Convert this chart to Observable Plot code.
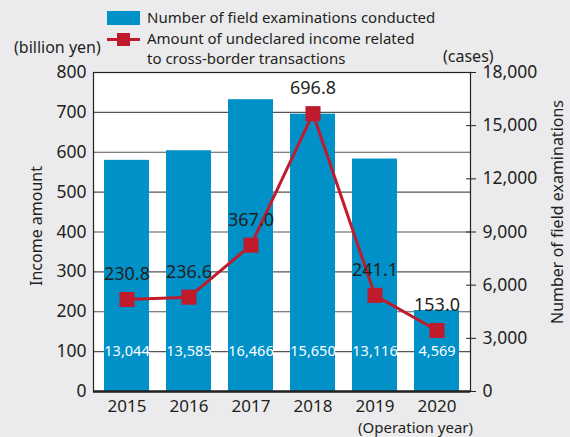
<!DOCTYPE html>
<html>
<head>
<meta charset="utf-8">
<script src="https://cdn.jsdelivr.net/npm/d3@7"></script>
<script src="https://cdn.jsdelivr.net/npm/@observablehq/plot@0.6"></script>
<style>
  html, body { margin: 0; padding: 0; background: #ebebed; }
  #wrap { position: relative; width: 570px; height: 437px; background: #ebebed; font-family: 'Noto Sans', sans-serif; color: #231f20; overflow: hidden; }
  #wrap svg { position: absolute; left: 0; top: 0; }
  .lbl { position: absolute; white-space: nowrap; font-size: 15px; line-height: normal; }
  .sw { position: absolute; }
</style>
</head>
<body>
<div id="wrap"></div>
<script>
const years = ["2015", "2016", "2017", "2018", "2019", "2020"];
const examinations = [13044, 13585, 16466, 15650, 13116, 4569];
const income = [230.8, 236.6, 367.0, 696.8, 241.1, 153.0];
const incomeTicks = [0, 100, 200, 300, 400, 500, 600, 700, 800];
const caseTicks = [0, 3000, 6000, 9000, 12000, 15000, 18000];

const BLUE = "#0091c9";
const RED = "#c01b2d";
const k = 800 / 18000; // cases -> billion yen

const data = years.map((y, i) => ({year: y, cases: examinations[i], income: income[i]}));

const tickShape = {draw(ctx, l) { ctx.moveTo(0, 0); ctx.lineTo(0, -l); }};

const chart = Plot.plot({
  width: 570,
  height: 437,
  marginTop: 72,
  marginBottom: 46,
  marginLeft: 93,
  marginRight: 100,
  style: {fontFamily: "'Noto Sans', sans-serif", background: "transparent", color: "#231f20", overflow: "visible"},
  x: {domain: years, paddingInner: 0.28, paddingOuter: 0.14, label: null},
  y: {domain: [0, 800], label: null},
  marks: [
    Plot.frame({fill: "white", stroke: null}),
    Plot.ruleY(incomeTicks.slice(1, -1), {stroke: "#555", strokeWidth: 1.2}),
    Plot.barY(data, {x: "year", y: d => d.cases * k, fill: BLUE}),
    Plot.text(data, {x: "year", y: () => 100, text: d => d3.format(",")(d.cases), fill: "white", fontSize: 14.5, letterSpacing: "-0.5px"}),
    Plot.frame({stroke: "#222", strokeWidth: 1.2}),
    Plot.ruleY([0], {stroke: "#222", strokeWidth: 2.5}),
    Plot.vector(caseTicks.map(c => c * k), {y: d => d, frameAnchor: "right", rotate: -90, length: 4, anchor: "start", shape: tickShape, stroke: "#222", strokeWidth: 1}),
    Plot.axisY({anchor: "left", ticks: incomeTicks, tickSize: 0, tickPadding: 7, fontSize: 17.5, label: null}),
    Plot.axisY({anchor: "right", ticks: caseTicks.map(c => c * k), tickSize: 5, tickPadding: 7, fontSize: 17.5, label: null,
      tickFormat: d => d3.format(",")(Math.round(d / k))}),
    Plot.axisX({tickSize: 0, tickPadding: 8, fontSize: 17, label: null}),
    Plot.line(data, {x: "year", y: "income", stroke: RED, strokeWidth: 3}),
    Plot.dot(data, {x: "year", y: "income", symbol: "square", r: 8.5, fill: RED, stroke: null}),
    Plot.text(data, {x: "year", y: "income", text: d => d.income.toFixed(1), dy: -25, fontSize: 18, fill: "#231f20"})
  ]
});

const wrap = document.getElementById("wrap");
wrap.appendChild(chart);

function addLabel(text, css) {
  const d = document.createElement("div");
  d.className = "lbl";
  d.textContent = text;
  Object.assign(d.style, css);
  wrap.appendChild(d);
  return d;
}
function addSwatch(css) {
  const d = document.createElement("div");
  d.className = "sw";
  Object.assign(d.style, css);
  wrap.appendChild(d);
}

// legend
addSwatch({left: "107px", top: "11px", width: "33px", height: "14px", background: BLUE});
addLabel("Number of field examinations conducted", {left: "147px", top: "7px"});
addSwatch({left: "107px", top: "38px", width: "33px", height: "3px", background: RED});
addSwatch({left: "117px", top: "33px", width: "13px", height: "13px", background: RED});
addLabel("Amount of undeclared income related", {left: "147px", top: "27.5px"});
addLabel("to cross-border transactions", {left: "147px", top: "48px"});

// units
addLabel("(billion yen)", {left: "14px", top: "36px", fontSize: "16px"});
addLabel("(cases)", {left: "443px", top: "45px", fontSize: "16px"});
addLabel("(Operation year)", {right: "97px", top: "416.5px", fontSize: "15px"});

// axis titles
addLabel("Income amount", {left: "36px", top: "226px", fontSize: "16px", transform: "translate(-50%,-50%) rotate(-90deg)"});
addLabel("Number of field examinations", {left: "557px", top: "212px", fontSize: "16px", transform: "translate(-50%,-50%) rotate(-90deg)"});
</script>
</body>
</html>
